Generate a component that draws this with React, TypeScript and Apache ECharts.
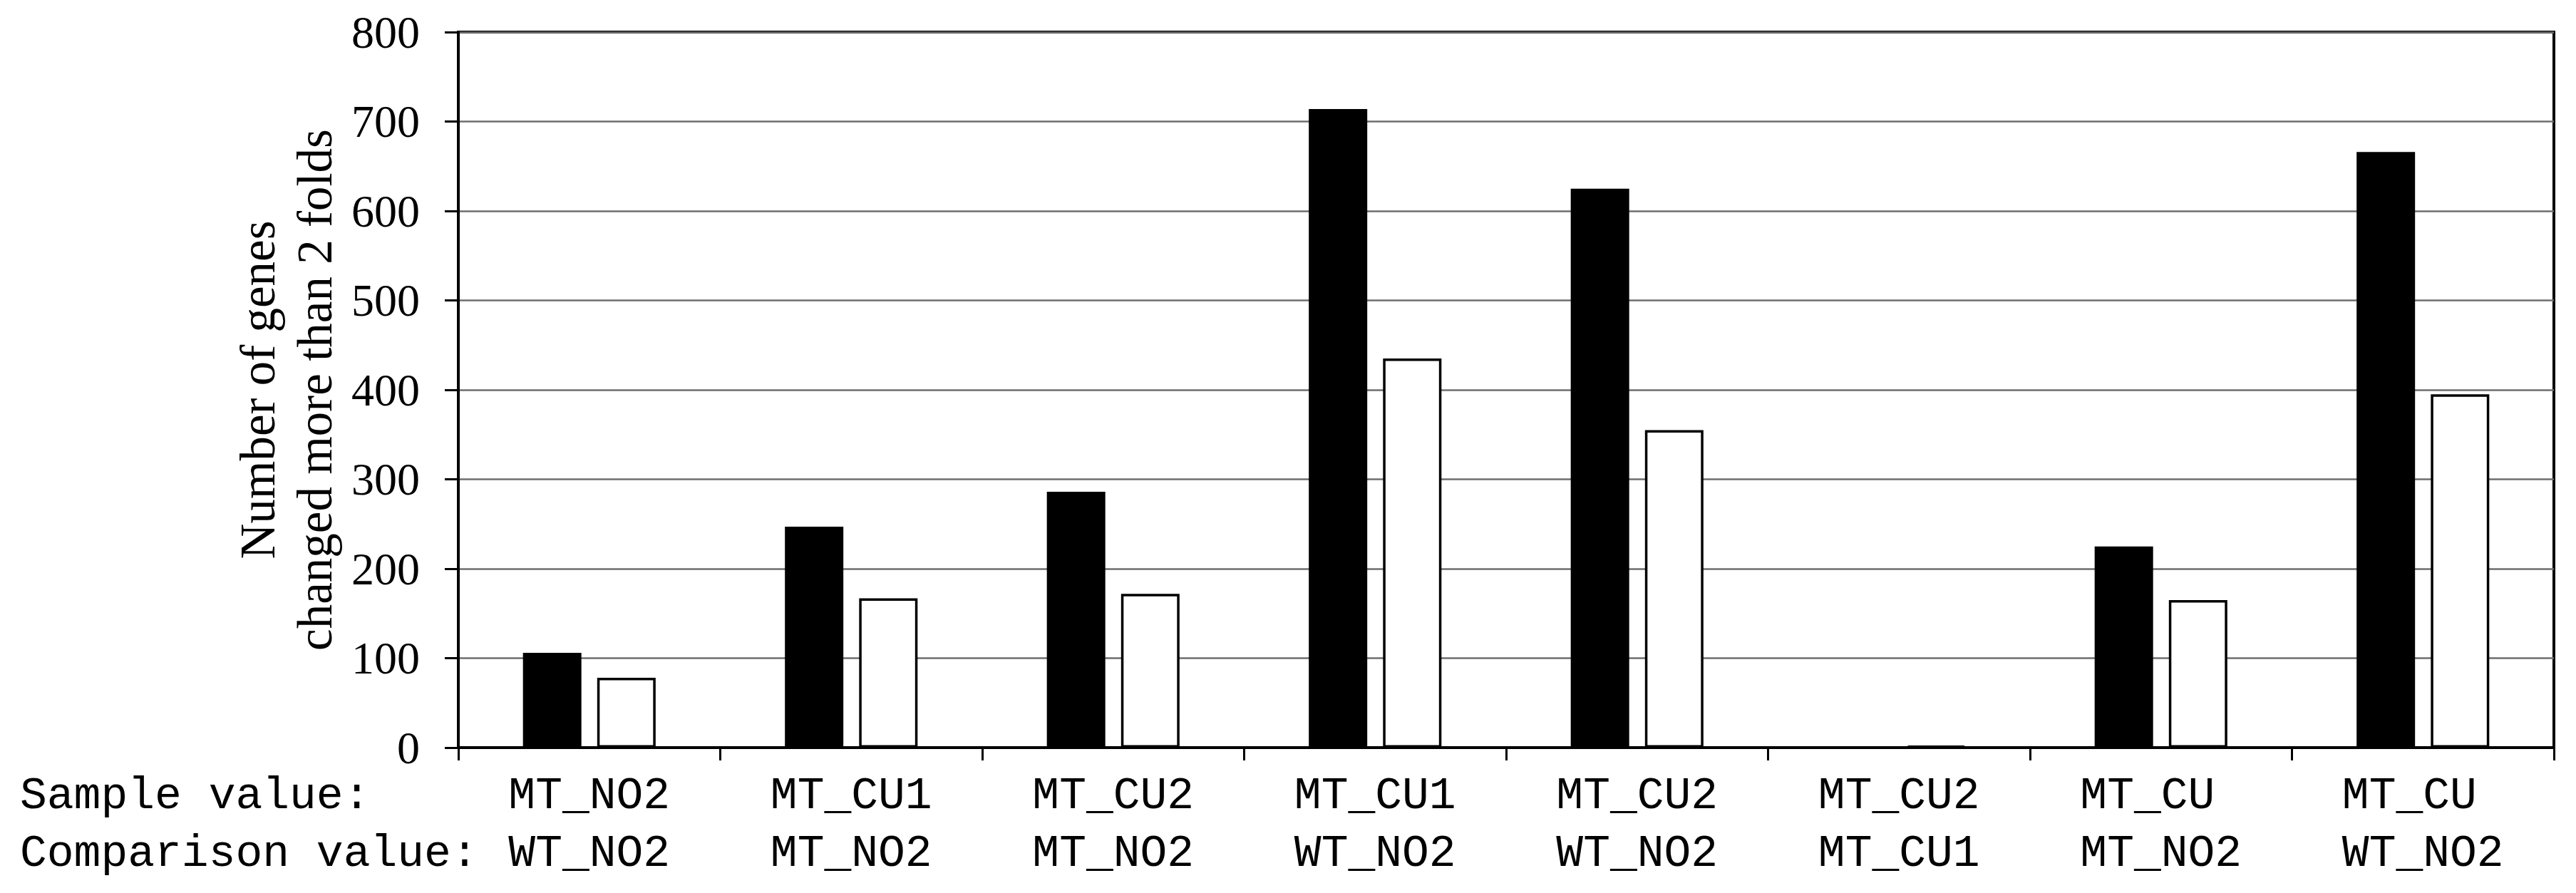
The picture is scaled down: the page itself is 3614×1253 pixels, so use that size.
import React, { useEffect, useRef } from "react";
import * as echarts from "echarts";

const sampleLabels = ["MT_NO2", "MT_CU1", "MT_CU2", "MT_CU1", "MT_CU2", "MT_CU2", "MT_CU", "MT_CU"];
const comparisonLabels = ["WT_NO2", "MT_NO2", "MT_NO2", "WT_NO2", "WT_NO2", "MT_CU1", "MT_NO2", "WT_NO2"];
const blackValues = [106, 247, 286, 714, 625, 0, 225, 666];
const whiteValues = [78, 167, 172, 435, 355, 2, 165, 395];
const rowTitles = ["Sample value:", "Comparison value:"];
const yTitleLines = ["Number of genes", "changed more than 2 folds"];

const MONO = "'Liberation Mono', 'Courier New', monospace";
const SERIF = "'Liberation Serif', 'Times New Roman', serif";

export default function App() {
  const ref = useRef<HTMLDivElement>(null);
  useEffect(() => {
    if (!ref.current) return;
    const chart = echarts.init(ref.current, undefined, { renderer: "svg" });
    const categories = sampleLabels.map(
      (s, i) => s.padEnd(6, "\u00a0") + "\n" + comparisonLabels[i].padEnd(6, "\u00a0")
    );
    const gridLeft = 643;
    const gridTop = 45;
    const gridBottom = 204;
    const labelMargin = 28;
    const lineH = 81;
    chart.setOption({
      animation: false,
      backgroundColor: "#ffffff",
      grid: {
        left: gridLeft,
        right: 31,
        top: gridTop,
        bottom: gridBottom,
        show: true,
        borderColor: "#000",
        borderWidth: 4,
        backgroundColor: "transparent",
      },
      xAxis: {
        type: "category",
        data: categories,
        axisLine: { show: true, lineStyle: { color: "#000", width: 4 } },
        axisTick: { show: true, length: 18, lineStyle: { color: "#000", width: 3 } },
        axisLabel: {
          interval: 0,
          margin: labelMargin,
          fontFamily: MONO,
          fontSize: 63,
          lineHeight: lineH,
          color: "#000",
          align: "center",
        },
        splitLine: { show: false },
      },
      yAxis: {
        type: "value",
        min: 0,
        max: 800,
        interval: 100,
        name: yTitleLines.join("\n"),
        nameLocation: "middle",
        nameRotate: 90,
        nameGap: 160,
        nameTextStyle: {
          fontFamily: SERIF,
          fontSize: 69,
          lineHeight: 80,
          color: "#000",
          align: "center",
        },
        axisLine: { show: true, lineStyle: { color: "#000", width: 4 } },
        axisTick: { show: true, length: 19, lineStyle: { color: "#000", width: 3 } },
        axisLabel: {
          margin: 54,
          fontFamily: SERIF,
          fontSize: 64,
          color: "#000",
        },
        splitLine: { show: true, lineStyle: { color: "#6e6e6e", width: 2.5 } },
      },
      series: [
        {
          type: "bar",
          data: blackValues,
          barWidth: 82,
          barGap: "27%",
          itemStyle: { color: "#000", borderColor: "#000", borderWidth: 0 },
        },
        {
          type: "bar",
          data: whiteValues,
          barWidth: 82,
          barGap: "27%",
          itemStyle: { color: "#fff", borderColor: "#000", borderWidth: 3.5 },
        },
      ],
      graphic: [
        {
          type: "text",
          left: 28,
          top: 1253 - gridBottom + labelMargin,
          style: {
            text: rowTitles.join("\n"),
            font: `63px ${MONO}`,
            lineHeight: lineH,
            fill: "#000",
            textAlign: "left",
          },
        },
      ],
    });
    return () => chart.dispose();
  }, []);
  return (
    <div
      ref={ref}
      style={{ position: "fixed", left: 0, top: 0, width: 3614, height: 1253, background: "#fff" }}
    />
  );
}
